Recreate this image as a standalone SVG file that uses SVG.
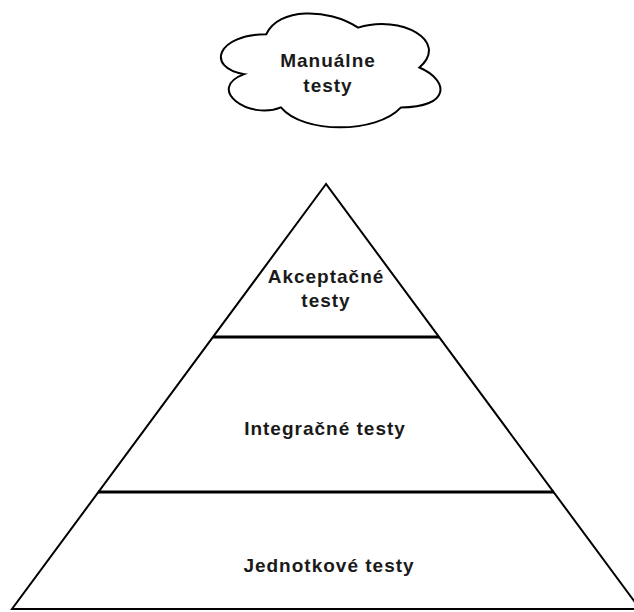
<svg xmlns="http://www.w3.org/2000/svg" width="634" height="612" viewBox="0 0 634 612">
  <style>
    .shape { fill: #ffffff; stroke: #000000; stroke-width: 2; stroke-linejoin: miter; }
    .divider { fill: none; stroke: #000000; stroke-width: 3; }
    .label { font-family: "Liberation Sans", Arial, sans-serif; font-weight: bold; font-size: 19px; letter-spacing: 1px; fill: #1a1a1a; text-anchor: middle; }
  </style>
  <rect width="634" height="612" fill="#ffffff"/>

  <!-- Cloud: manual tests sit above the pyramid -->
  <g id="manual-tests">
    <path class="shape" transform="translate(205,1) scale(245,133)" vector-effect="non-scaling-stroke"
          d="M0.25,0.25 C0.05,0.25 0,0.5 0.16,0.55 C0,0.66 0.18,0.9 0.31,0.8 C0.4,1 0.7,1 0.8,0.8 C1,0.8 1,0.6 0.875,0.5 C1,0.3 0.8,0.1 0.625,0.2 C0.5,0.05 0.3,0.05 0.25,0.25 Z"/>
    <text class="label" x="328" y="67">Manuálne</text>
    <text class="label" x="328" y="92">testy</text>
  </g>

  <!-- Test pyramid outline -->
  <g id="pyramid">
    <polygon class="shape" points="326,184 12,609 640,609"/>
  </g>

  <!-- Layer separators -->
  <g id="separators">
    <line class="divider" x1="213" y1="337" x2="439" y2="337"/>
    <line class="divider" x1="98" y1="492" x2="554" y2="492"/>
  </g>

  <g id="acceptance-tests">
    <text class="label" x="326" y="283">Akceptačné</text>
    <text class="label" x="326" y="307">testy</text>
  </g>

  <g id="integration-tests">
    <text class="label" x="325" y="435">Integračné testy</text>
  </g>

  <g id="unit-tests">
    <text class="label" x="329" y="572">Jednotkové testy</text>
  </g>
</svg>
